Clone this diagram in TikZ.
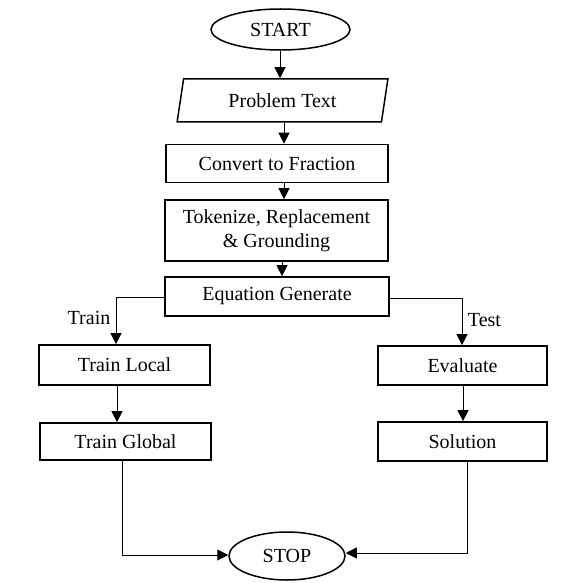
\documentclass[tikz,border=0pt]{standalone}
\usepackage{fontspec}
\setmainfont{Liberation Serif}
\usetikzlibrary{shapes.geometric,arrows.meta}
\begin{document}
\begin{tikzpicture}[x=1pt,y=-1pt,
  every node/.style={font=\fontsize{20}{24}\selectfont, inner sep=0pt},
  box/.style={draw, line width=1.7pt, rectangle},
  term/.style={draw, line width=1.5pt, ellipse},
  para/.style={draw, line width=1.5pt, trapezium, trapezium left angle=76, trapezium right angle=104, trapezium stretches=true},
  lbl/.style={font=\fontsize{20}{24}\selectfont},
  arr/.style={line width=1pt, -{Triangle[length=11pt,width=11pt]}}]
\useasboundingbox (0,0) rectangle (581,583);
\node[term, minimum width=139, minimum height=41] (start) at (280.5,29.5) {START};
\node[para, minimum width=211, minimum height=43] (pt) at (282.5,100.5) {Problem Text};
\node[box, minimum width=222, minimum height=38] (conv) at (277,163.5) {Convert to Fraction};
\node[box, minimum width=223, minimum height=61, align=center] (tok) at (276.5,230.5) {Tokenize, Replacement\\\& Grounding};
\node[box, minimum width=224, minimum height=39] (eq) at (277,296.5) {Equation Generate};
\node[box, minimum width=171, minimum height=40] (tl) at (124.5,365) {Train Local};
\node[box, minimum width=169, minimum height=39] (ev) at (462.5,365.5) {Evaluate};
\node[box, minimum width=171, minimum height=37] (tg) at (125.5,441.5) {Train Global};
\node[box, minimum width=169, minimum height=39] (sol) at (462.5,441.5) {Solution};
\node[term, minimum width=116, minimum height=48] (stop) at (287,556) {STOP};
\coordinate (a1) at (280,0);
\coordinate (a2) at (284,0);
\coordinate (a3) at (284,0);
\coordinate (a4) at (282,0);
\draw[arr] (a1 |- start.south) -- (a1 |- pt.north);
\draw[arr] (a2 |- pt.south) -- (a2 |- conv.north);
\draw[arr] (a3 |- conv.south) -- (a3 |- tok.north);
\draw[arr] (a4 |- tok.south) -- (a4 |- eq.north);
\coordinate (l1) at (116,297);
\coordinate (r1) at (462,298);
\draw[arr] (eq.west |- l1) -- (l1) -- (l1 |- tl.north);
\draw[arr] (eq.east |- r1) -- (r1) -- (r1 |- ev.north);
\node[lbl] (train) at (89,318) {Train};
\node[lbl] (test) at (484.5,320) {Test};
\coordinate (t1) at (117,0);
\coordinate (t2) at (463,0);
\draw[arr] (t1 |- tl.south) -- (t1 |- tg.north);
\draw[arr] (t2 |- ev.south) -- (t2 |- sol.north);
\coordinate (b1) at (122,555);
\coordinate (b2) at (467,553);
\draw[arr] (b1 |- tg.south) -- (b1) -- (stop.west |- b1);
\draw[arr] (b2 |- sol.south) -- (b2) -- (stop.east |- b2);
\end{tikzpicture}
\end{document}
